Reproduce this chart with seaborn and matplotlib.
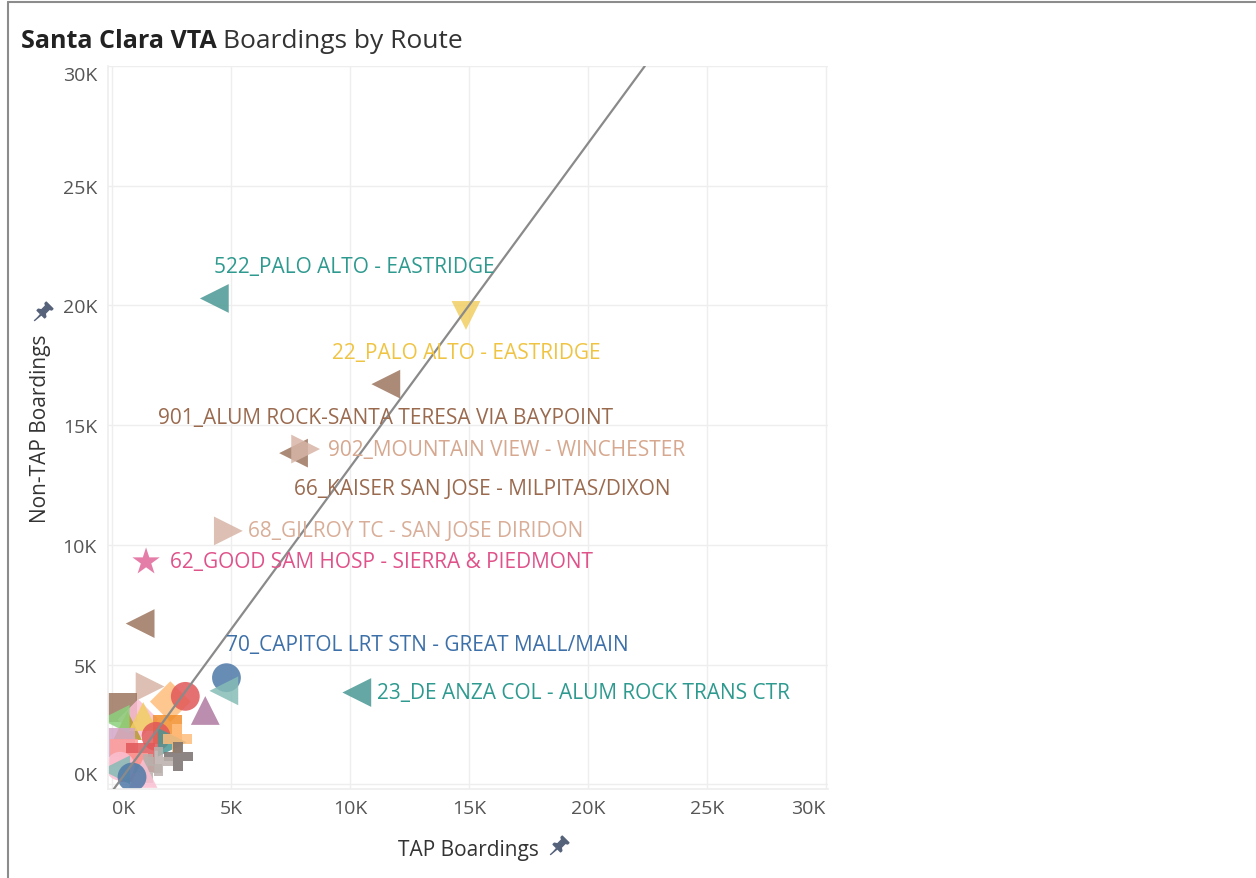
import numpy as np
import pandas as pd
import matplotlib.pyplot as plt
import seaborn as sns
from matplotlib.lines import Line2D

# =========================
# Data
# =========================

routes = ["64", "72", "25", "73", "26", "70", "60", "55", "48", "57", "58", "59",
          "32", "63", "61", "68x", "65", "47", "34", "53", "49", "52", "35",
          "54", "18", "19", "17", "522", "22", "901", "66", "902", "68", "62", "23"]

tap = [1180, 1600, 2450, 3080, 3920, 4810, 4700, 450, 1100, 650, 1310, 130,
       340, 2320, 1850, 2530, 2740, 500, 1200, 900, 2780, 1950, 1500,
       340, 150, 1300, 840, 4300, 14880, 11510, 7630, 8140, 4890, 1430, 10290]

non_tap = [6710, 4080, 3450, 3670, 3080, 4450, 3900, 3200, 2700, 2450, 2830, 2710,
           1750, 2290, 2000, 1750, 1900, 1300, 1100, 700, 1150, 950, 650,
           750, 600, 450, 300, 20290, 19580, 16710, 13830, 14000, 10580, 9290, 3830]

labels = {
    "522": "522_PALO ALTO - EASTRIDGE",
    "22": "22_PALO ALTO - EASTRIDGE",
    "901": "901_ALUM ROCK-SANTA TERESA VIA BAYPOINT",
    "902": "902_MOUNTAIN VIEW - WINCHESTER",
    "66": "66_KAISER SAN JOSE - MILPITAS/DIXON",
    "68": "68_GILROY TC - SAN JOSE DIRIDON",
    "62": "62_GOOD SAM HOSP - SIERRA & PIEDMONT",
    "70": "70_CAPITOL LRT STN - GREAT MALL/MAIN",
    "23": "23_DE ANZA COL - ALUM ROCK TRANS CTR",
}

ticks = [0, 5000, 10000, 15000, 20000, 25000, 30000]
tick_labels = ["0K", "5K", "10K", "15K", "20K", "25K", "30K"]

# trend line ends
trend_x = [0, 22400]
trend_y = [-300, 30000]

# =========================
# Styles
# =========================

palette = {
    "64": "#9D7660", "72": "#D7B5A6", "25": "#FFBE7D", "73": "#E15759",
    "26": "#B07AA1", "70": "#4E79A7", "60": "#86BCB6", "55": "#9D7660",
    "48": "#FABFD2", "57": "#B6992D", "58": "#F1CE63", "59": "#8CD17D",
    "32": "#D4A6C8", "63": "#F28E2B", "61": "#E15759", "68x": "#499894",
    "65": "#FFBE7D", "47": "#FF9D9A", "34": "#E15759", "53": "#FF9D9A",
    "49": "#79706E", "52": "#BAB0AC", "35": "#BAB0AC", "54": "#FABFD2",
    "18": "#86BCB6", "19": "#FABFD2", "17": "#4E79A7",
    "522": "#499894", "22": "#F1CE63", "901": "#9D7660", "66": "#9D7660",
    "902": "#D7B5A6", "68": "#D7B5A6", "62": "#E0679A", "23": "#499894",
}
markers = {
    "64": "<", "72": ">", "25": "D", "73": "o", "26": "^", "70": "o", "60": "<",
    "55": "s", "48": "D", "57": "^", "58": "^", "59": "<", "32": "s", "63": "s",
    "61": "o", "68x": ">", "65": "P", "47": "s", "34": "s", "53": "s", "49": "P",
    "52": "P", "35": "P", "54": "o", "18": "<", "19": "^", "17": "o",
    "522": "<", "22": "v", "901": "<", "66": "<", "902": ">", "68": ">",
    "62": "*", "23": "<",
}
label_color = {
    "522": "#2E9A8F", "22": "#F0C443", "901": "#9A6A4F", "902": "#D6A88F",
    "66": "#9A6A4F", "68": "#D9AE98", "62": "#E0528A", "70": "#3D70A8",
    "23": "#2E9A8F",
}
# offsets in pixels (dx, dy) and alignment for labels
label_pos = {
    "522": (0, 32, "left"), "22": (0, -37, "center"), "901": (0, -33, "center"),
    "902": (22, 0, "left"), "66": (0, -35, "left"), "68": (20, 0, "left"),
    "62": (24, 0, "left"), "70": (0, 33, "left"), "23": (20, 0, "left"),
}

df = pd.DataFrame({"route": routes, "tap": tap, "non_tap": non_tap})

# =========================
# Plot
# =========================

sns.set_theme(style="whitegrid")
plt.rcParams["font.family"] = ["Open Sans", "DejaVu Sans"]

fig = plt.figure(figsize=(12.56, 8.79), dpi=100)
ax = fig.add_axes([108 / 1256, 1 - 790 / 879, 720 / 1256, 723 / 879])

ax.plot(trend_x, trend_y, color="#8A8A8A", lw=1.6, zorder=3)

sns.scatterplot(
    data=df, x="tap", y="non_tap",
    hue="route", style="route",
    palette=palette, markers=markers,
    s=430, alpha=0.85, linewidth=0,
    legend=False, ax=ax, zorder=2
)

for r, text in labels.items():
    i = routes.index(r)
    dx, dy, ha = label_pos[r]
    ax.annotate(
        text, (tap[i], non_tap[i]),
        xytext=(dx * 0.72, dy * 0.72), textcoords="offset points",
        ha=ha, va="center", fontsize=15, color=label_color[r], zorder=4
    )

ax.set_xlim(-170, 30100)
ax.set_ylim(-200, 30000)
ax.set_xticks(ticks)
ax.set_xticklabels(tick_labels)
ax.set_yticks(ticks)
ax.set_yticklabels(tick_labels)
ax.tick_params(axis="both", labelsize=14, colors="#555555", length=0, pad=7)
ax.tick_params(axis="y", pad=8)
ax.grid(color="#EEEEEE", lw=1)
for side in ["top", "right"]:
    ax.spines[side].set_visible(False)
for side in ["left", "bottom"]:
    ax.spines[side].set_color("#EEEEEE")

xl = ax.get_xticklabels()
xl[0].set_ha("left")
xl[-1].set_ha("right")
yl = ax.get_yticklabels()
yl[0].set_va("bottom")
yl[-1].set_va("top")

ax.set_xlabel("TAP Boardings", fontsize=15, color="#333333", labelpad=16)
ax.set_ylabel("Non-TAP Boardings", fontsize=15, color="#333333", labelpad=8)

# pin icons next to the axis titles
pin_v = np.array([(0, -1), (0.07, -0.2), (0.45, -0.2), (0.45, -0.05), (0.22, 0.1),
                  (0.22, 0.6), (0.4, 0.7), (0.4, 0.85), (-0.4, 0.85), (-0.4, 0.7),
                  (-0.22, 0.6), (-0.22, 0.1), (-0.45, -0.05), (-0.45, -0.2),
                  (-0.07, -0.2)])
c, s_ = np.cos(np.pi / 4), np.sin(np.pi / 4)
pin_v = np.column_stack([pin_v[:, 0] * c + pin_v[:, 1] * s_,
                         -pin_v[:, 0] * s_ + pin_v[:, 1] * c])
pin = dict(marker=pin_v, color="#55627A", markersize=15, ls="none")
fig.add_artist(Line2D([558 / 1256], [1 - 847 / 879], **pin))
fig.add_artist(Line2D([42 / 1256], [1 - 313 / 879], **pin))

# title
t1 = fig.text(21 / 1256, 1 - 48 / 879, "Santa Clara VTA", fontsize=18,
              fontweight="bold", color="#222222", va="baseline")
fig.canvas.draw()
bb = t1.get_window_extent()
fig.text(bb.x1 / 1256 + 6 / 1256, 1 - 48 / 879, "Boardings by Route",
         fontsize=19, color="#333333", va="baseline")

# outer frame
fig.add_artist(Line2D([8 / 1256, 1], [1 - 3 / 879, 1 - 3 / 879], color="#8C8C8C", lw=1.5))
fig.add_artist(Line2D([8 / 1256, 8 / 1256], [0, 1 - 3 / 879], color="#8C8C8C", lw=1.5))

plt.savefig("out.png", dpi=100)
